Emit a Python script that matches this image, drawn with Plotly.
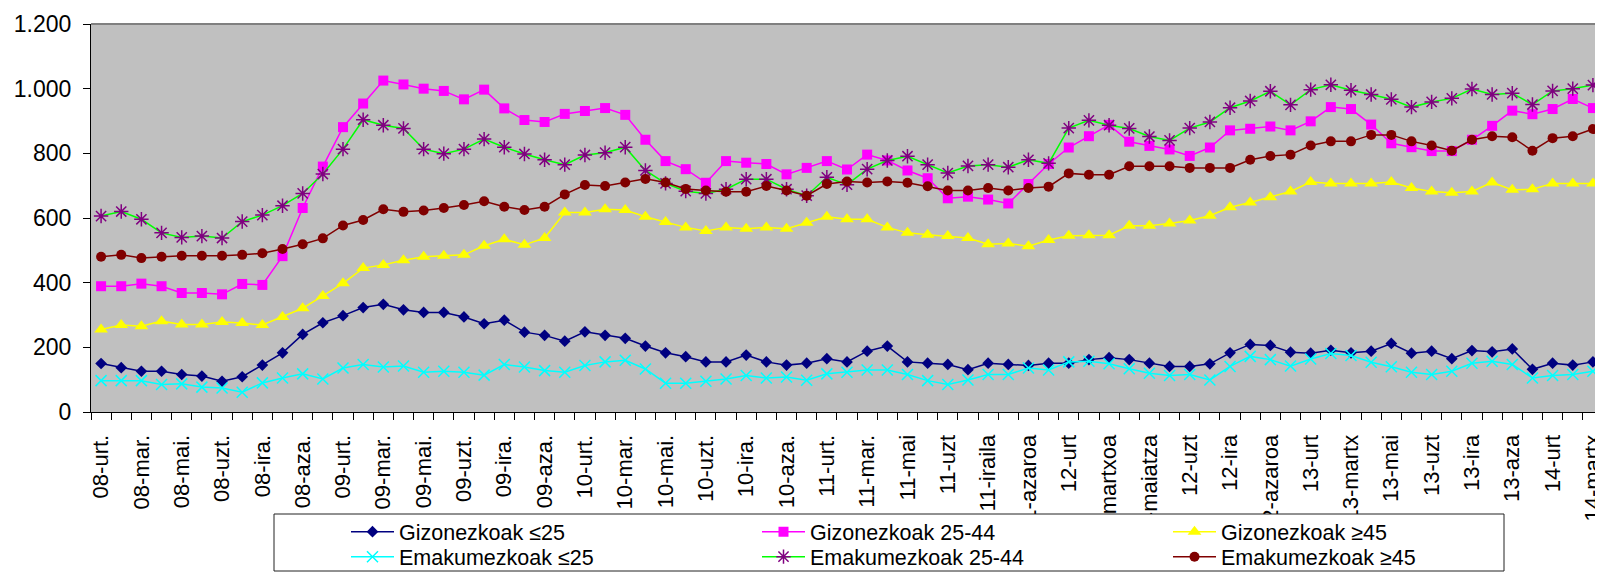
import plotly.graph_objects as go

tick_labels = ["08-urt.", "08-mar.", "08-mai.", "08-uzt.", "08-ira.", "08-aza.",
               "09-urt.", "09-mar.", "09-mai.", "09-uzt.", "09-ira.", "09-aza.",
               "10-urt.", "10-mar.", "10-mai.", "10-uzt.", "10-ira.", "10-aza.",
               "11-urt.", "11-mar.", "11-mai", "11-uzt", "11-iraila", "11-azaroa",
               "12-urt", "12-martxoa", "12-maiatza", "12-uzt", "12-ira", "12-azaroa",
               "13-urt", "13-martx", "13-mai", "13-uzt", "13-ira", "13-aza",
               "14-urt", "14-martx"]

giz_25 = [150, 137, 126, 126, 116, 111, 95, 109, 145, 183, 240, 276, 298, 323, 333, 316, 308, 308, 294, 273, 284, 247,
          237, 219, 248, 237, 228, 204, 183, 171, 155, 155, 176, 155, 145, 151, 165, 155, 188, 204, 155, 151, 147, 131, 151, 147, 144, 151, 151,
          162, 168, 162, 151, 141, 141, 149, 183, 209, 206, 185, 182, 191, 183, 188, 212, 182, 188, 165, 190, 186, 195, 132, 151, 145, 155]

ema_25 = [97, 97, 97, 85, 87, 77, 74, 61, 90, 105, 118, 102, 136, 147, 139, 142, 123, 126, 123, 114, 147, 139,
          128, 123, 144, 155, 160, 133, 89, 89, 95, 102, 113, 105, 108, 98, 118, 123, 130, 130, 116, 97, 85, 99, 116, 116, 136, 130, 155,
          157, 149, 134, 120, 113, 116, 99, 141, 172, 162, 142, 164, 181, 175, 154, 140, 123, 116, 126, 151, 157, 147, 105, 113, 116, 126]

giz_45 = [255, 269, 265, 281, 271, 271, 278, 275, 269, 294, 321, 359, 398, 445, 455, 469, 480, 483, 486, 514, 534, 517,
          538, 617, 617, 627, 625, 604, 588, 571, 560, 571, 567, 571, 567, 585, 604, 596, 596, 571, 554, 548, 544, 538, 519, 521, 513, 532, 545,
          547, 547, 576, 576, 583, 592, 607, 633, 648, 664, 682, 711, 707, 707, 707, 711, 693, 682, 678, 682, 710, 687, 689, 707, 707, 707]

giz_2544 = [389, 389, 397, 389, 368, 368, 364, 396, 393, 482, 631, 759, 881, 954, 1025, 1013, 1000, 993, 967, 997, 939, 903,
            897, 922, 931, 940, 919, 842, 776, 751, 709, 776, 771, 767, 735, 755, 776, 750, 796, 778, 747, 723, 661, 666, 657, 645, 705, 767, 818,
            853, 888, 836, 823, 812, 792, 818, 871, 876, 883, 871, 899, 943, 937, 889, 831, 819, 807, 807, 842, 885, 932, 921, 937, 968, 940]

ema_2544 = [606, 620, 596, 554, 540, 544, 538, 589, 609, 638, 676, 736, 813, 904, 887, 877, 813, 799, 813, 844, 819, 798,
            780, 765, 795, 802, 819, 747, 707, 683, 676, 689, 720, 720, 689, 669, 726, 703, 751, 778, 791, 765, 739, 761, 765, 757, 780, 769, 878,
            902, 887, 877, 852, 840, 878, 897, 941, 962, 992, 950, 997, 1012, 995, 982, 967, 943, 959, 970, 999, 982, 986, 951, 993, 1000, 1011]

ema_45 = [480, 486, 476, 480, 483, 483, 483, 486, 491, 504, 519, 537, 577, 594, 627, 619, 623, 631, 640, 652, 635, 625,
          635, 673, 702, 699, 710, 721, 710, 690, 685, 681, 681, 699, 685, 669, 705, 713, 710, 713, 709, 698, 685, 685, 693, 685, 693, 697, 738,
          734, 734, 760, 760, 760, 755, 755, 755, 780, 792, 796, 824, 837, 837, 857, 857, 837, 824, 808, 842, 853, 850, 808, 847, 853, 875]

y_ticks = [0, 200, 400, 600, 800, 1000, 1200]
y_tick_text = ["0", "200", "400", "600", "800", "1.000", "1.200"]

n = len(giz_25)
x = list(range(n))

FONT = "Liberation Sans, Arial, sans-serif"

series = [
    ("Gizonezkoak ≤25", giz_25, "#000080", dict(symbol="diamond", size=9, color="#000080"), "legend"),
    ("Gizonezkoak 25-44", giz_2544, "#FF00FF", dict(symbol="square", size=10, color="#FF00FF"), "legend"),
    ("Gizonezkoak ≥45", giz_45, "#FFFF00", dict(symbol="triangle-up", size=12, color="#FFFF00"), "legend"),
    ("Emakumezkoak ≤25", ema_25, "#00FFFF", dict(symbol="x-thin-open", size=11, color="#00FFFF",
                                                 line=dict(color="#00FFFF", width=1.5)), "legend2"),
    ("Emakumezkoak 25-44", ema_2544, "#00FF00", dict(symbol="asterisk-open", size=12, color="#800080",
                                                     line=dict(color="#800080", width=1.5)), "legend2"),
    ("Emakumezkoak ≥45", ema_45, "#800000", dict(symbol="circle", size=10, color="#800000"), "legend2"),
]

fig = go.Figure()
for name, vals, lcol, marker, leg in series:
    fig.add_trace(go.Scatter(x=x, y=vals, name=name, mode="lines+markers",
                             line=dict(color=lcol, width=1.5), marker=marker, legend=leg))

# page body has an 8px margin: figure starts at (8, 8) in the window
OFF = 8
L, T, W, H = 91, 24, 1512, 388   # plot area in window pixels
FIG_W, FIG_H = 1603 - OFF, 579 - OFF


def fx(px):
    return (px - L) / W


def fy(py):
    return (T + H - py) / H


legend_common = dict(orientation="h", xanchor="left", yanchor="middle", bgcolor="rgba(0,0,0,0)",
                     borderwidth=0, entrywidth=353, entrywidthmode="pixels", itemwidth=43,
                     font=dict(family=FONT, size=21.5, color="black"))

fig.update_layout(
    width=FIG_W, height=FIG_H,
    margin=dict(l=L - OFF, r=FIG_W - (L - OFF) - W, t=T - OFF, b=FIG_H - (T - OFF) - H, autoexpand=False),
    paper_bgcolor="white", plot_bgcolor="#C0C0C0",
    font=dict(family=FONT, size=22, color="black"),
    xaxis=dict(range=[-0.5, n - 0.5], tickmode="array", tickvals=list(range(0, n, 2)), ticktext=tick_labels,
               tickangle=-90, ticks="", ticklabelstandoff=13, ticklabeloverflow="allow", showgrid=False,
               zeroline=False, showline=True, linecolor="black", linewidth=1,
               tickfont=dict(family=FONT, size=22, color="black"),
               minor=dict(tickmode="linear", tick0=-0.5, dtick=1, ticks="outside", ticklen=7,
                          tickcolor="black", tickwidth=1, showgrid=False)),
    yaxis=dict(range=[0, 1200], tickmode="array", tickvals=y_ticks, ticktext=y_tick_text, ticks="outside",
               ticklen=7, tickcolor="black", ticklabelstandoff=7, showgrid=False, zeroline=False, showline=True,
               linecolor="black", linewidth=1, tickfont=dict(family=FONT, size=23, color="black")),
    legend=dict(legend_common, x=fx(346), y=fy(531.7)),
    legend2=dict(legend_common, x=fx(346), y=fy(556.7)),
    shapes=[
        dict(type="rect", xref="paper", yref="paper", x0=fx(274), x1=fx(1504), y0=fy(571), y1=fy(514),
             line=dict(color="#222222", width=1), fillcolor="white", layer="above"),
        dict(type="line", xref="paper", yref="paper", x0=0, x1=1, y0=1, y1=1,
             line=dict(color="#808080", width=2), layer="above"),
    ],
    showlegend=True,
)

fig.write_html("out.html")
